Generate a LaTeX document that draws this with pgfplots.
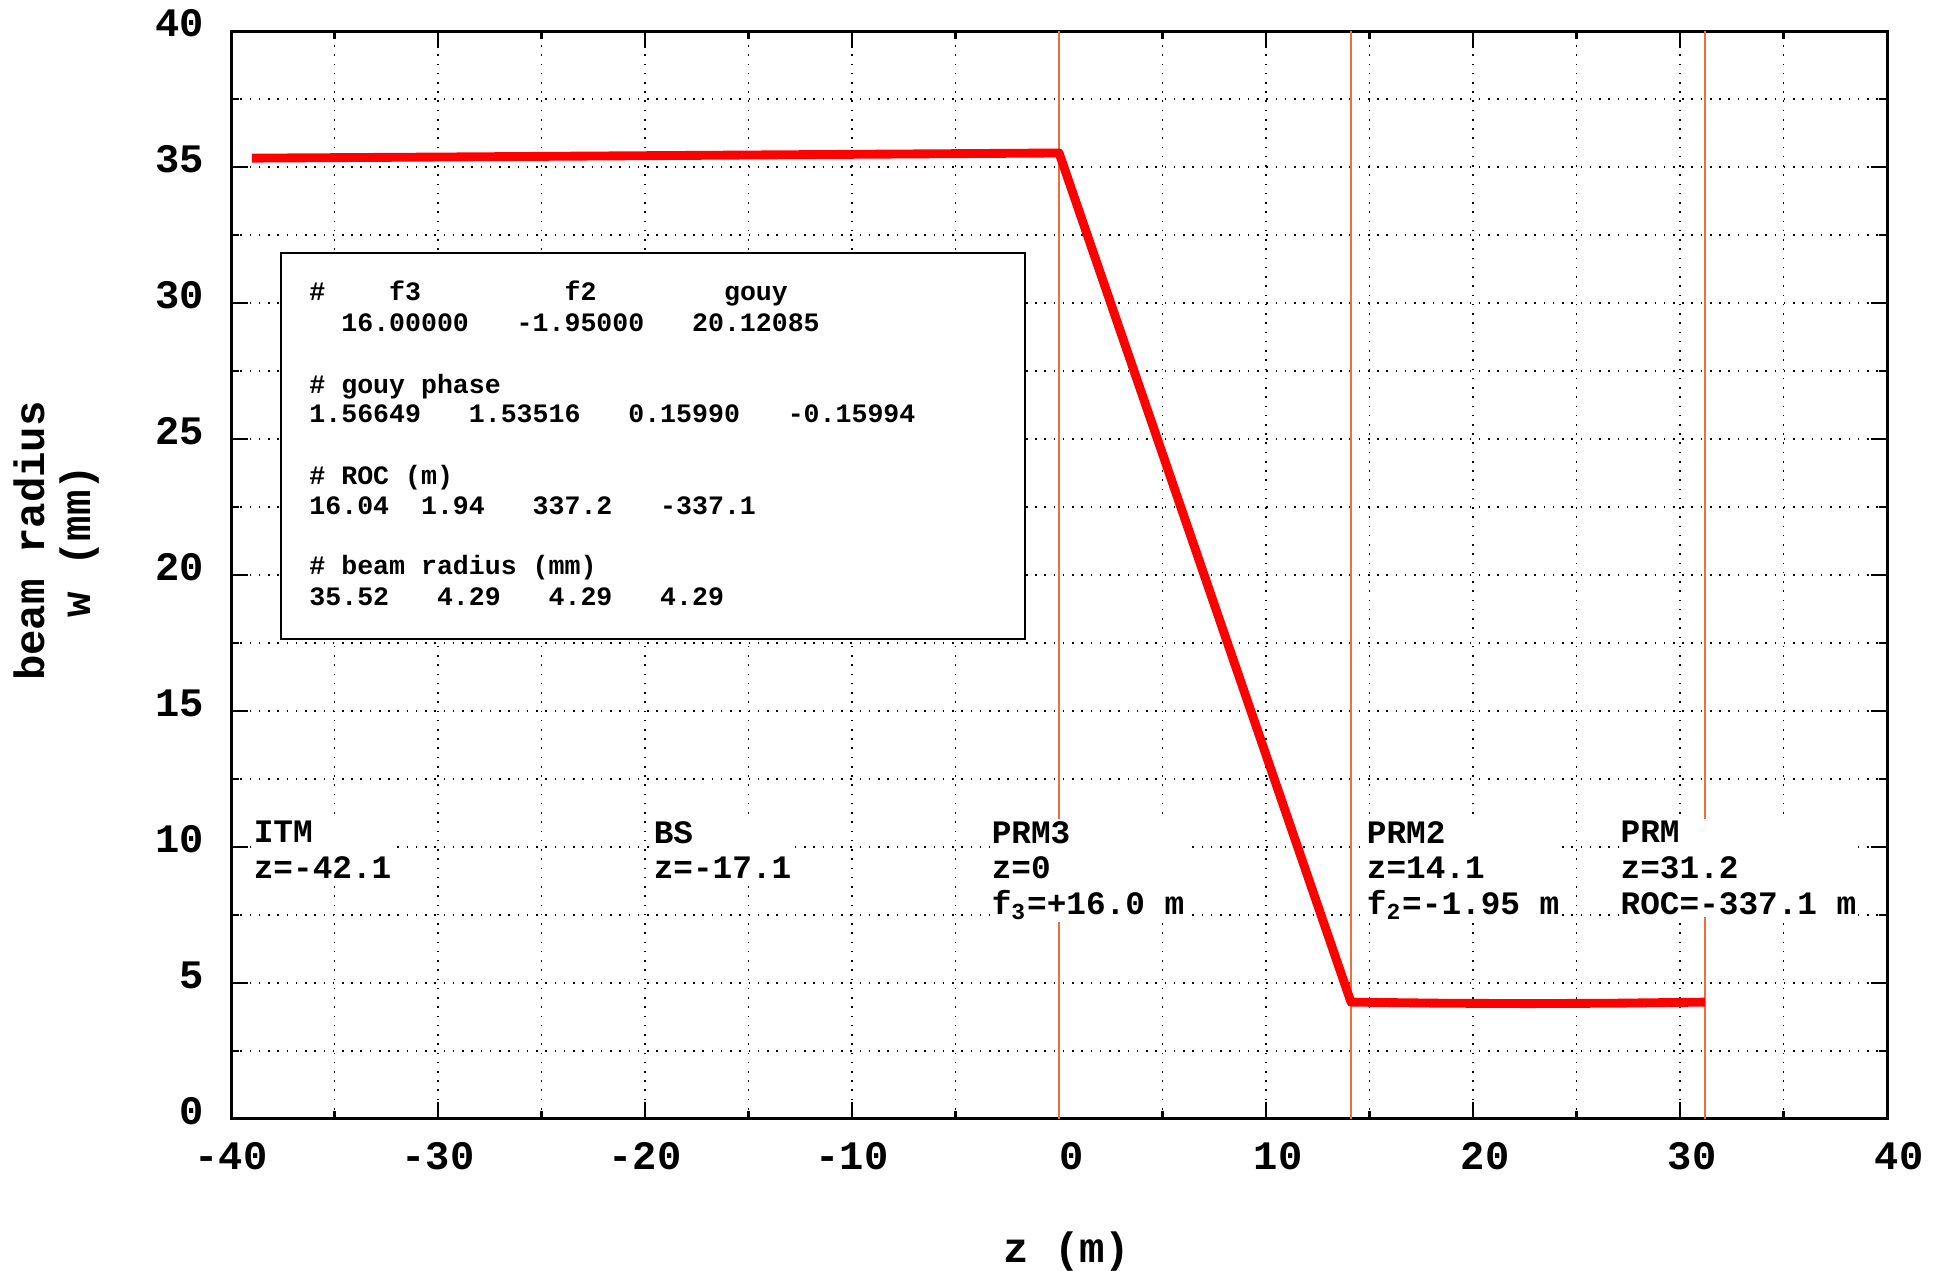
\documentclass[border=0pt]{standalone}
\usepackage{fontspec}
\setmainfont{Liberation Mono}
\usepackage{pgfplots}
\pgfplotsset{compat=1.18}
\definecolor{mirror}{RGB}{238,110,60}
\begin{document}
\begin{tikzpicture}
\begin{axis}[
  scale only axis, width=430pt, height=282.4pt,
  xmin=-40, xmax=40, ymin=0, ymax=40,
  xtick={-40,-30,...,40},
  xticklabels={-40,-30,-20,-10,\phantom{-}0,\phantom{-}10,\phantom{-}20,\phantom{-}30,\phantom{-}40},
  minor x tick num=1,
  ytick={0,5,...,40}, minor y tick num=1,
  grid=both,
  major grid style={black, dotted, line width=0.4pt},
  minor grid style={black, dotted, line width=0.4pt},
  tick align=inside,
  major tick length=4.3pt, minor tick length=2pt,
  axis line style={line width=0.8pt},
  every tick/.style={black, line width=0.6pt},
  tick label style={font=\fontsize{10.5}{12}\selectfont\bfseries},
  /pgf/number format/assume math mode=true,
  xticklabel style={yshift=-2.5pt},
  yticklabel style={xshift=-3.5pt, yshift=2pt},
]
\addplot[mirror, line width=0.5pt] coordinates {(0,0) (0,40)};
\addplot[mirror, line width=0.5pt] coordinates {(14.1,0) (14.1,40)};
\addplot[mirror, line width=0.5pt] coordinates {(31.2,0) (31.2,40)};
\addplot[red, line width=2.3pt, line join=round] table {
z w
-39.0 35.33
-30 35.37
-20 35.42
-10 35.47
0 35.52
14.1 4.29
18.4 4.25
22.65 4.235
26.9 4.25
31.2 4.29
};
\draw[fill=white, line width=0.6pt] (axis cs:-37.58,17.64) rectangle (axis cs:-1.64,31.84);
\begin{scope}[every node/.style={anchor=base west, inner sep=0pt, font=\fontsize{6.9}{7.8}\selectfont\bfseries}]
\node at (axis cs:-36.25,30.11) {\#~~~~f3~~~~~~~~~f2~~~~~~~~gouy};
\node at (axis cs:-36.25,28.94) {~~16.00000~~~-1.95000~~~20.12085};
\node at (axis cs:-36.25,26.69) {\#~gouy~phase};
\node at (axis cs:-36.25,25.60) {1.56649~~~1.53516~~~0.15990~~~-0.15994};
\node at (axis cs:-36.25,23.31) {\#~ROC~(m)};
\node at (axis cs:-36.25,22.24) {16.04~~1.94~~~337.2~~~-337.1};
\node at (axis cs:-36.25,20.00) {\#~beam~radius~(mm)};
\node at (axis cs:-36.25,18.89) {35.52~~~4.29~~~4.29~~~4.29};
\end{scope}
\begin{scope}[every node/.style={anchor=north west, fill=white, inner sep=0.5pt, align=left, font=\fontsize{8.5}{9.3}\selectfont\bfseries}]
\node at (axis cs:-39.03,11.04) {ITM\\z=-42.1};
\node at (axis cs:-19.71,11.04) {BS\\z=-17.1};
\node at (axis cs:-3.38,11.04) {PRM3\\z=0\\f\textsubscript{3}=+16.0 m};
\node at (axis cs:14.74,11.04) {PRM2\\z=14.1\\f\textsubscript{2}=-1.95 m};
\node at (axis cs:27.0,11.04) {PRM\\z=31.2\\ROC=-337.1 m};
\end{scope}
\coordinate (yl) at (rel axis cs:0,0.5);
\coordinate (xl) at (rel axis cs:0.5,0);
\coordinate (sw) at (rel axis cs:0,0);
\coordinate (ne) at (rel axis cs:1,1);
\end{axis}
\node[rotate=90, align=center, font=\fontsize{11}{12}\selectfont\bfseries] at ([xshift=-45.3pt,yshift=8.8pt]yl) {beam radius\\w (mm)};
\node[font=\fontsize{11}{13}\selectfont\bfseries] at ([xshift=2pt,yshift=-34.5pt]xl) {z (m)};
\pgfresetboundingbox
\path[use as bounding box] ([xshift=-60pt,yshift=-39.5pt]sw) rectangle ([xshift=14pt,yshift=8.1pt]ne);
\end{tikzpicture}
\end{document}
